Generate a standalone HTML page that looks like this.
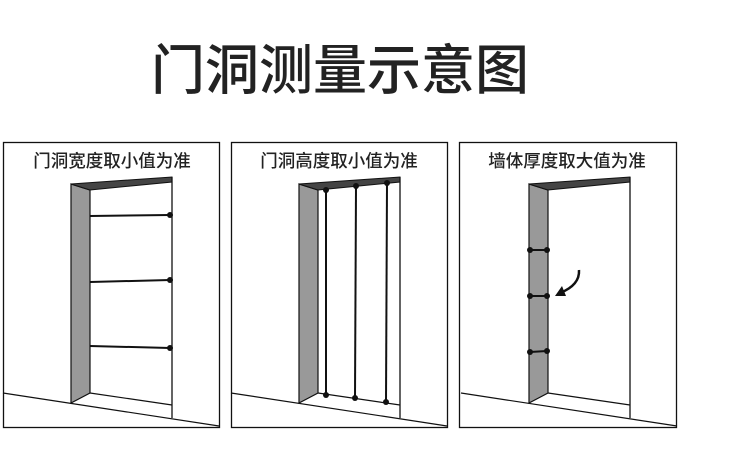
<!DOCTYPE html><html><head><meta charset="utf-8"><style>
body{margin:0;background:#fff;width:736px;height:455px;overflow:hidden}
</style></head><body>
<svg width="736" height="455" xmlns="http://www.w3.org/2000/svg" font-family="'Liberation Sans','Noto Sans CJK SC',sans-serif">
<text x="340" y="89" font-size="54" font-weight="500" text-anchor="middle" fill="#222">门洞测量示意图</text>
<defs>
<g id="door">
<polygon points="71,184 90,190 90,393 71,403" fill="#999" stroke="#111" stroke-width="1.2"/>
<polygon points="71,184 172,177 172,182 90,190" fill="#444" stroke="#111" stroke-width="1"/>
<line x1="172" y1="177" x2="172" y2="418" stroke="#111" stroke-width="1.3"/>
<line x1="90" y1="393" x2="172" y2="405" stroke="#111" stroke-width="1.2"/>
<line x1="3" y1="393" x2="219" y2="426" stroke="#111" stroke-width="1.2"/>
</g>
</defs>
<g fill="none" stroke="#111" stroke-width="1.3">
<rect x="3.5" y="142.5" width="216" height="285"/>
<rect x="231.5" y="142.5" width="216" height="285"/>
<rect x="459.5" y="142.5" width="217" height="285"/>
</g>
<g font-size="17.5" font-weight="500" fill="#222" text-anchor="middle">
<text x="112" y="167">门洞宽度取小值为准</text>
<text x="339" y="167">门洞高度取小值为准</text>
<text x="567" y="167">墙体厚度取大值为准</text>
</g>
<use href="#door"/>
<g stroke="#111" stroke-width="2"><line x1="90" y1="216" x2="170" y2="215"/><line x1="90" y1="282" x2="170" y2="280"/><line x1="90" y1="346" x2="170" y2="348"/></g>
<g fill="#111"><circle cx="170" cy="215" r="3"/><circle cx="170" cy="280" r="3"/><circle cx="170" cy="348" r="3"/></g>
<g transform="translate(228,0)"><use href="#door"/></g>
<g stroke="#111" stroke-width="2"><line x1="326" y1="190" x2="326" y2="395"/><line x1="356" y1="186" x2="355" y2="398"/><line x1="387" y1="183" x2="386" y2="402"/></g>
<g fill="#111"><circle cx="326" cy="190" r="3"/><circle cx="326" cy="395" r="3"/><circle cx="356" cy="186" r="3"/><circle cx="355" cy="398" r="3"/><circle cx="387" cy="183" r="3"/><circle cx="386" cy="402" r="3"/></g>
<g transform="translate(458,0)"><use href="#door"/></g>
<g stroke="#111" stroke-width="2"><line x1="530" y1="250" x2="547" y2="250"/><line x1="530" y1="296" x2="547" y2="296"/><line x1="530" y1="352" x2="547" y2="351"/></g>
<g fill="#111"><circle cx="530" cy="250" r="3"/><circle cx="547" cy="250" r="3"/><circle cx="530" cy="296" r="3"/><circle cx="547" cy="296" r="3"/><circle cx="530" cy="352" r="3"/><circle cx="547" cy="351" r="3"/></g>
<path d="M579,270 Q580,285 560,293" fill="none" stroke="#111" stroke-width="2.5"/>
<polygon points="555,296 562,286 566,296" fill="#111"/>
</svg>
</body></html>
